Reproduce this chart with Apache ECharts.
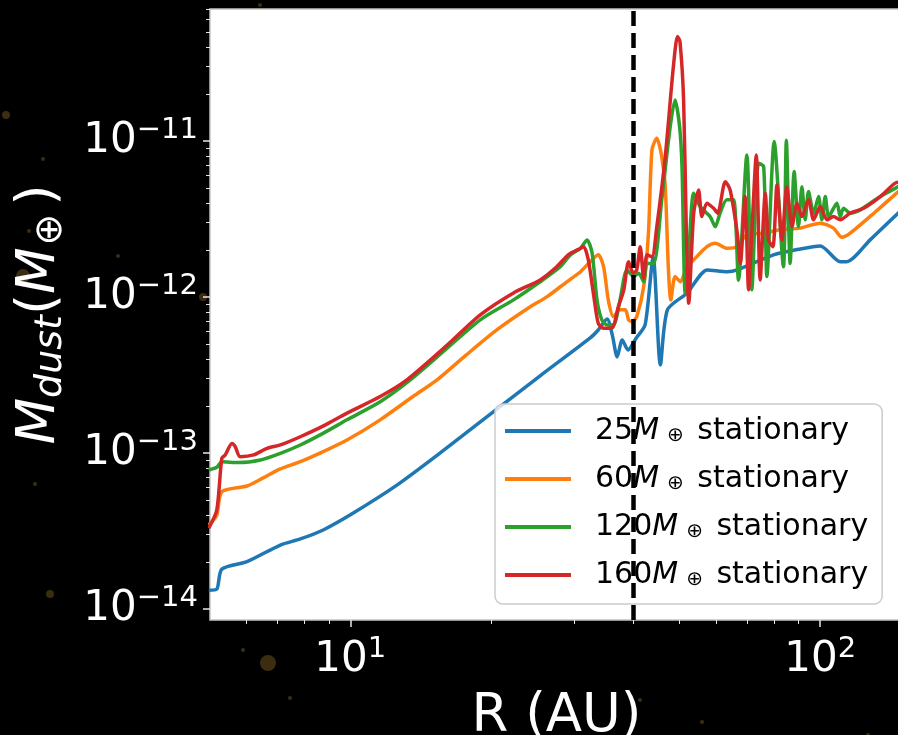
<!DOCTYPE html>
<html lang="en">
<head>
<meta charset="UTF-8">
<title>Dust mass vs radius</title>
<script src="https://cdn.jsdelivr.net/npm/echarts@6.0.0/dist/echarts.min.js"></script>
<style>
    html, body { margin: 0; padding: 0; background: #000; }
    #chart { width: 898px; height: 735px; }
</style>
</head>
<body>
<div id="chart"></div>
<script>
    // planet masses (Earth masses) and line colours
    const planetMass = [25, 60, 120, 160];
    const seriesColors = ['#1f77b4', '#ff7f0e', '#2ca02c', '#d62728'];

    // R (AU) / M_dust (M_earth)
    const r25 = [5.0, 5.2, 5.33, 6.03, 7.1, 7.83, 8.76, 10.15, 12.59, 15.54, 18.91, 25.35, 32.4, 33.7, 35.2, 36.1, 36.98, 37.9, 39.0, 40.6, 42.4, 44.1, 45.7, 47.3, 52.1, 57.5, 63.4, 66.6, 79.5, 90.7, 100, 110.3, 113.8, 127.7, 146.6, 150];
    const m25 = [1.32e-14, 1.34e-14, 1.80e-14, 2.01e-14, 2.57e-14, 2.81e-14, 3.21e-14, 4.12e-14, 6.24e-14, 1.0e-13, 1.58e-13, 3.12e-13, 5.46e-13, 6.14e-13, 7.22e-13, 5.71e-13, 4.12e-13, 5.30e-13, 4.57e-13, 5.46e-13, 6.61e-13, 1.80e-12, 3.66e-13, 8.26e-13, 1.06e-12, 1.49e-12, 1.45e-12, 1.49e-12, 1.86e-12, 2.03e-12, 2.12e-12, 1.68e-12, 1.68e-12, 2.32e-12, 3.45e-12, 3.6e-12];

    const r60 = [5.0, 5.2, 5.33, 6.03, 6.53, 7.1, 7.83, 8.76, 9.84, 11.58, 13.6, 15.3, 17.66, 20.5, 24.2, 26.2, 28.9, 30.9, 32.4, 33.7, 34.6, 35.4, 36.3, 37.5, 38.5, 39.1, 39.8, 40.7, 42.1, 43.1, 43.85, 44.9, 46.0, 46.8, 47.5, 48.1, 49.1, 50.4, 52.0, 53.8, 57.4, 59.8, 63.3, 66.6, 69.8, 75.8, 82.2, 90.7, 100, 106.7, 111.2, 115.8, 130.9, 146.6, 150];
    const m60 = [3.45e-14, 4.0e-14, 5.65e-14, 6.14e-14, 6.92e-14, 7.9e-14, 8.79e-14, 1.02e-13, 1.21e-13, 1.63e-13, 2.30e-13, 2.94e-13, 4.25e-13, 6.14e-13, 8.67e-13, 1.0e-12, 1.25e-12, 1.45e-12, 1.68e-12, 1.86e-12, 1.56e-12, 9.57e-13, 7.48e-13, 8.26e-13, 8.26e-13, 7.13e-13, 6.95e-13, 7.48e-13, 1.16e-12, 2.57e-12, 8.75e-12, 1.04e-11, 7.93e-12, 5.09e-12, 1.56e-12, 9.57e-13, 1.35e-12, 1.25e-12, 1.56e-12, 1.73e-12, 2.10e-12, 2.21e-12, 2.05e-12, 2.10e-12, 2.50e-12, 2.56e-12, 2.69e-12, 2.76e-12, 2.97e-12, 2.76e-12, 2.41e-12, 2.56e-12, 3.5e-12, 4.73e-12, 5.0e-12];

    const r120 = [5.0, 5.2, 5.33, 5.78, 6.44, 7.1, 7.83, 8.77, 9.84, 11.58, 13.42, 15.92, 18.91, 22.25, 25.35, 27.98, 29.4, 30.9, 31.9, 32.7, 33.5, 34.3, 35.2, 36.3, 37.5, 38.8, 40.1, 41.1, 42.1, 42.8, 44.2, 46.0, 47.96, 49.1, 50.2, 50.8, 51.6, 52.5, 53.8, 55.5, 58.3, 59.8, 61.2, 63.3, 65.4, 67.0, 69.8, 71.5, 73.9, 75.8, 77.0, 79.8, 83.5, 84.7, 86.3, 88.0, 89.9, 91.4, 92.9, 94.4, 96.8, 99.2, 100.8, 102.5, 104.2, 108.5, 110.3, 112.1, 115.8, 121.6, 134.2, 146.6, 150];
    const m120 = [7.78e-14, 8.09e-14, 8.79e-14, 8.67e-14, 9.02e-14, 9.95e-14, 1.125e-13, 1.34e-13, 1.63e-13, 2.13e-13, 2.94e-13, 4.57e-13, 7.13e-13, 9.57e-13, 1.25e-12, 1.56e-12, 1.86e-12, 2.05e-12, 2.32e-12, 1.91e-12, 9.57e-13, 7.13e-13, 6.61e-13, 6.61e-13, 9.57e-13, 1.49e-12, 1.35e-12, 1.42e-12, 1.25e-12, 1.64e-12, 1.64e-12, 4.19e-12, 1.24e-11, 1.83e-11, 1.24e-11, 6.84e-12, 1.06e-12, 1.91e-12, 4.62e-12, 3.79e-12, 3.27e-12, 2.82e-12, 3.44e-12, 4.19e-12, 4.19e-12, 1.28e-12, 8.13e-12, 1.11e-12, 7.19e-12, 6.84e-12, 1.35e-12, 9.9e-12, 1.56e-12, 1.01e-11, 1.64e-12, 6.36e-12, 2.82e-12, 5.09e-12, 3.12e-12, 4.73e-12, 3.44e-12, 4.40e-12, 3.12e-12, 4.40e-12, 3.27e-12, 3.99e-12, 3.27e-12, 3.70e-12, 3.44e-12, 3.61e-12, 4.40e-12, 5.09e-12, 5.3e-12];

    const r160 = [5.0, 5.2, 5.33, 5.42, 5.60, 5.69, 5.83, 6.23, 6.65, 7.1, 7.83, 8.77, 9.84, 11.58, 13.2, 15.92, 18.91, 22.25, 25.35, 27.5, 29.1, 30.9, 31.4, 32.1, 32.9, 33.7, 34.6, 36.0, 37.2, 38.2, 39.1, 40.0, 40.7, 41.4, 42.1, 42.8, 43.85, 44.9, 46.8, 48.7, 49.7, 50.3, 51.2, 51.9, 52.5, 53.8, 55.1, 56.0, 57.4, 59.3, 60.5, 62.8, 64.3, 66.6, 67.6, 69.2, 70.4, 71.5, 73.1, 74.5, 76.4, 77.6, 79.3, 80.9, 82.9, 84.9, 87.1, 89.2, 91.4, 94.4, 96.8, 100, 103.4, 106.7, 110.3, 115.8, 123.6, 134.2, 144.4, 150];
    const m160 = [3.30e-14, 4.31e-14, 9.25e-14, 9.71e-14, 1.15e-13, 1.10e-13, 9.47e-14, 9.71e-14, 1.07e-13, 1.125e-13, 1.27e-13, 1.49e-13, 1.80e-13, 2.30e-13, 2.94e-13, 4.78e-13, 7.67e-13, 1.06e-12, 1.285e-12, 1.56e-12, 1.86e-12, 2.05e-12, 2.10e-12, 1.73e-12, 1.06e-12, 6.78e-13, 6.30e-13, 6.30e-13, 8.67e-13, 1.11e-12, 1.68e-12, 1.42e-12, 1.49e-12, 2.10e-12, 1.32e-12, 1.86e-12, 1.81e-12, 2.82e-12, 7.93e-12, 2.99e-11, 4.66e-11, 4.33e-11, 1.83e-11, 2.56e-12, 9.11e-13, 3.44e-12, 4.85e-12, 3.27e-12, 3.99e-12, 3.70e-12, 3.44e-12, 5.48e-12, 4.85e-12, 2.56e-12, 1.64e-12, 4.40e-12, 1.11e-12, 2.56e-12, 8.13e-12, 1.285e-12, 4.62e-12, 2.32e-12, 2.10e-12, 5.22e-12, 2.32e-12, 5.09e-12, 2.82e-12, 3.99e-12, 3.27e-12, 4.19e-12, 3.12e-12, 3.79e-12, 3.12e-12, 3.27e-12, 3.12e-12, 3.44e-12, 3.70e-12, 4.40e-12, 5.36e-12, 5.46e-12];

    // gap edge marked by the dashed line (AU)
    const gapRadius = 40;

    // ticks
    const xMajor = [10, 100];
    const xMinor = [6, 7, 8, 9, 20, 30, 40, 50, 60, 70, 80, 90];
    const yMajor = [1e-14, 1e-13, 1e-12, 1e-11];
    const yMinor = [2e-14, 3e-14, 4e-14, 5e-14, 6e-14, 7e-14, 8e-14, 9e-14,
                    2e-13, 3e-13, 4e-13, 5e-13, 6e-13, 7e-13, 8e-13, 9e-13,
                    2e-12, 3e-12, 4e-12, 5e-12, 6e-12, 7e-12, 8e-12, 9e-12,
                    2e-11, 3e-11, 4e-11, 5e-11, 6e-11, 7e-11];

    const FONT = 'DejaVu Sans';
    const radii = [r25, r60, r120, r160];
    const dustMass = [m25, m60, m120, m160];

    // "10^n" as rich text
    function powLabel(v) {
        const e = Math.round(Math.log10(v));
        return '{b|10}{e|' + (e < 0 ? '\u2212' + (-e) : e) + '}';
    }
    const powRich = {
        b: { fontSize: 42, lineHeight: 50, color: '#fff', fontFamily: FONT },
        e: { fontSize: 29, lineHeight: 34, color: '#fff', fontFamily: FONT, verticalAlign: 'top' }
    };

    const xRange = { min: 5.03, max: 150 };
    const yRange = { min: 8.5e-15, max: 7.0e-11 };

    const chart = echarts.init(document.getElementById('chart'));

    const series = planetMass.map((p, i) => ({
        name: p + 'M\u2295 stationary',
        type: 'line',
        data: radii[i].map((r, j) => [r, dustMass[i][j]]),
        showSymbol: false,
        smooth: 0.25,
        lineStyle: { width: 3.5, color: seriesColors[i] },
        itemStyle: { color: seriesColors[i] }
    }));
    series[3].markLine = {
        silent: true,
        symbol: ['none', 'none'],
        label: { show: false },
        lineStyle: { color: '#000', width: 4.5, type: [15, 7] },
        data: [{ xAxis: gapRadius }]
    };

    // faint background specks
    const specks = [[6, 115, 4], [43, 159, 2], [29, 231, 2], [23, 276, 7], [118, 256, 2], [203, 297, 4],
                    [35, 484, 2], [50, 594, 4], [268, 663, 8], [260, 5, 2], [243, 650, 2], [290, 698, 2],
                    [534, 712, 2], [640, 700, 2], [702, 722, 2], [868, 735, 2]];

    const option = {
        animation: false,
        backgroundColor: '#000',
        graphic: specks.map(s => ({
            type: 'circle', shape: { cx: s[0], cy: s[1], r: s[2] },
            style: { fill: 'rgba(110,80,30,0.55)' }, z: -1, silent: true
        })),
        grid: {
            left: 210, top: 9, right: -5, bottom: 115,
            outerBoundsMode: 'none', containLabel: false,
            show: true, backgroundColor: '#fff',
            borderColor: '#c4c4c4', borderWidth: 1.5
        },
        legend: {
            orient: 'vertical',
            left: 495, top: 404,
            padding: [12, 14, 14, 10],
            itemWidth: 66, itemHeight: 4, itemGap: 18,
            icon: 'rect',
            backgroundColor: 'rgba(255,255,255,0.8)',
            borderColor: '#cccccc', borderWidth: 1.5, borderRadius: 8,
            formatter: name => {
                const p = parseInt(name, 10);
                return '{lead|' + p + '}{i|M}{s|\u2295}{n| stationary}';
            },
            textStyle: {
                color: '#000', fontFamily: FONT, fontSize: 30,
                rich: {
                    lead: { fontSize: 30, lineHeight: 30, color: '#000', fontFamily: FONT, padding: [0, 0, 0, 19] },
                    i: { fontSize: 30, lineHeight: 30, color: '#000', fontFamily: FONT, fontStyle: 'italic' },
                    s: { fontSize: 20, lineHeight: 8, color: '#000', fontFamily: FONT, verticalAlign: 'bottom', padding: [0, 4, 0, 8] },
                    n: { fontSize: 30, lineHeight: 30, color: '#000', fontFamily: FONT }
                }
            }
        },
        xAxis: [{
            type: 'log', logBase: 10, min: xRange.min, max: xRange.max,
            name: 'R (AU)', nameLocation: 'middle', nameGap: 60,
            nameTextStyle: { color: '#fff', fontSize: 53, fontFamily: FONT, lineHeight: 62 },
            axisLine: { show: false, onZero: false },
            axisTick: { show: true, customValues: xMajor, length: 7, lineStyle: { color: '#e8e8e8', width: 1.5 } },
            axisLabel: { customValues: xMajor, margin: 15, formatter: powLabel, rich: powRich },
            splitLine: { show: false }
        }, {
            type: 'log', logBase: 10, min: xRange.min, max: xRange.max, position: 'bottom',
            axisLine: { show: false, onZero: false },
            axisTick: { show: true, customValues: xMinor, length: 4, lineStyle: { color: '#e8e8e8', width: 1 } },
            axisLabel: { show: false },
            splitLine: { show: false }
        }],
        yAxis: [{
            type: 'log', logBase: 10, min: yRange.min, max: yRange.max,
            name: '{m|M}{s|dust}{p|(}{m|M}{o|\u2295}{p|)}',
            nameLocation: 'middle', nameGap: 140, nameRotate: 90,
            nameTextStyle: {
                color: '#fff', fontFamily: FONT,
                rich: {
                    m: { fontSize: 54, lineHeight: 60, color: '#fff', fontFamily: FONT, fontStyle: 'italic' },
                    s: { fontSize: 38, lineHeight: 32, color: '#fff', fontFamily: FONT, fontStyle: 'italic', verticalAlign: 'bottom' },
                    p: { fontSize: 54, lineHeight: 60, color: '#fff', fontFamily: FONT },
                    o: { fontSize: 38, lineHeight: 28, color: '#fff', fontFamily: FONT, verticalAlign: 'bottom', padding: [0, 8, 0, 2] }
                }
            },
            axisLine: { show: false, onZero: false },
            axisTick: { show: true, customValues: yMajor, length: 7, lineStyle: { color: '#e8e8e8', width: 1.5 } },
            axisLabel: { customValues: yMajor, margin: 12, formatter: powLabel, rich: powRich },
            splitLine: { show: false }
        }, {
            type: 'log', logBase: 10, min: yRange.min, max: yRange.max, position: 'left',
            axisLine: { show: false, onZero: false },
            axisTick: { show: true, customValues: yMinor, length: 4, lineStyle: { color: '#e8e8e8', width: 1 } },
            axisLabel: { show: false },
            splitLine: { show: false }
        }],
        series: series
    };

    chart.setOption(option);
</script>
</body>
</html>
